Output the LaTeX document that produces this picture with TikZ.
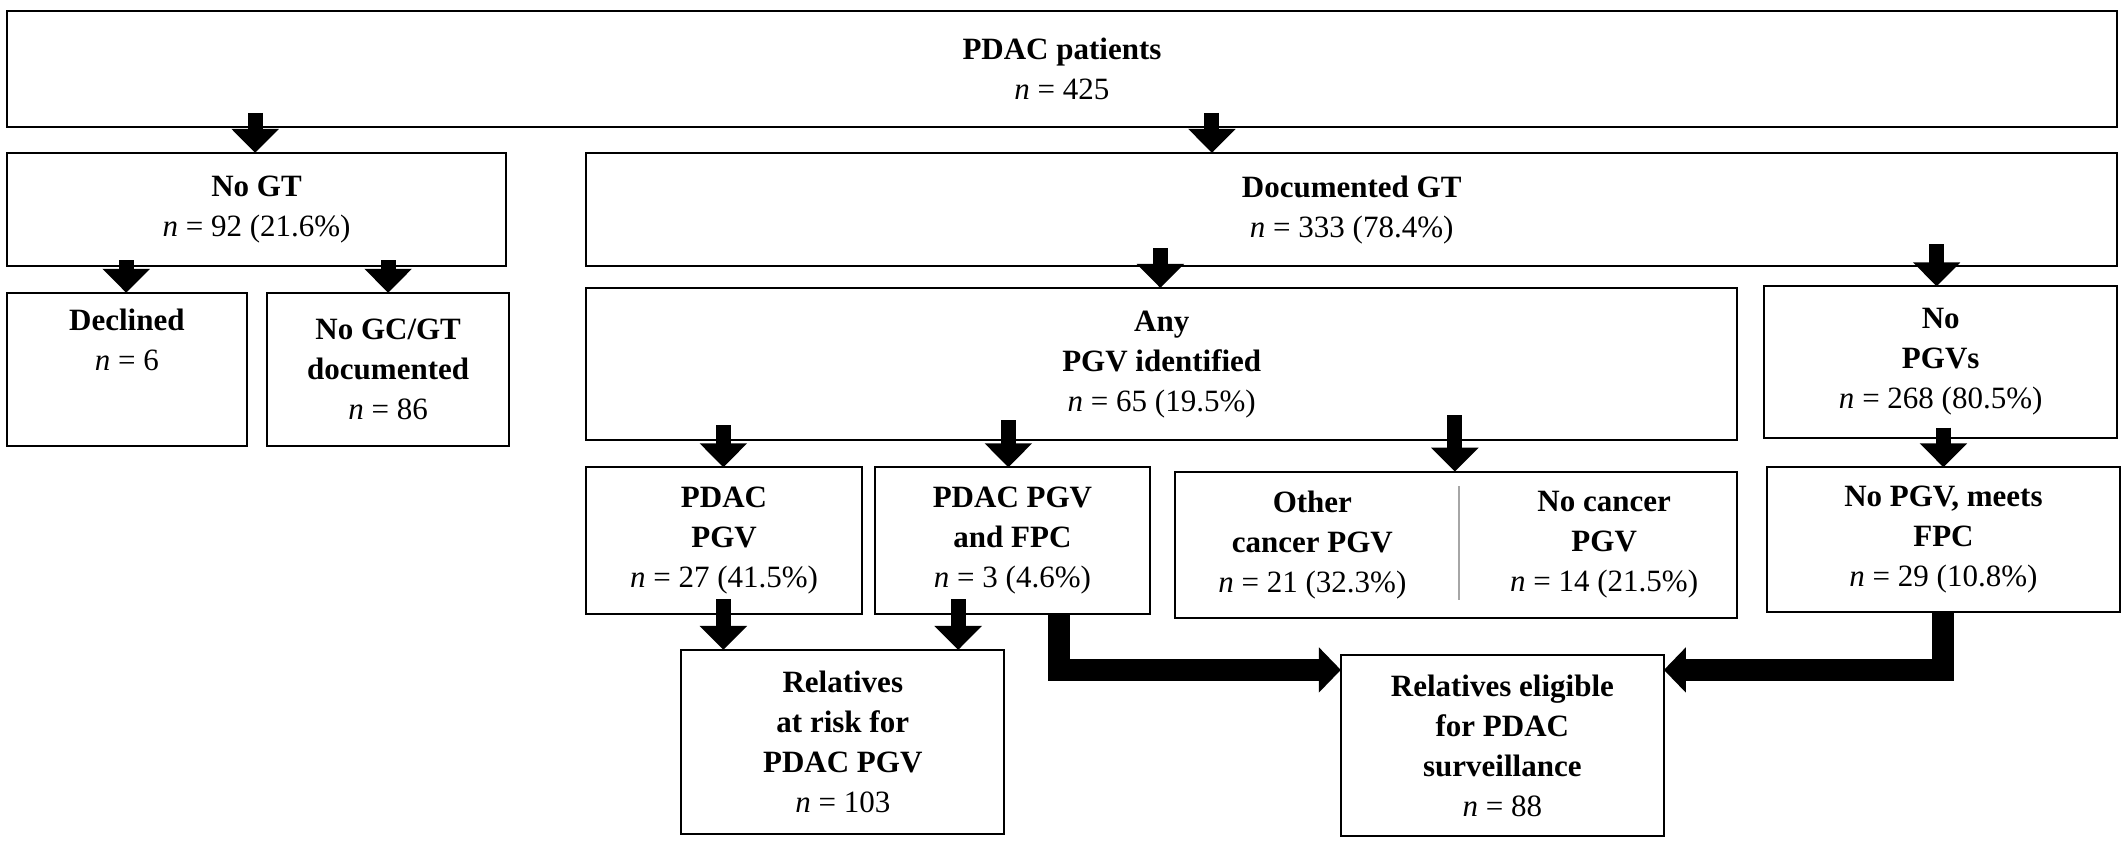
\documentclass[tikz,border=0pt]{standalone}
\usepackage{fontspec}
\setmainfont{Liberation Serif}
\usetikzlibrary{arrows.meta}
\newcommand\bx[6]{\node[box,minimum width={(#4-#2)*1.357pt},minimum height={(#5-#3)*0.5402pt}] (#1) at ({(#2+#4)/2},{(#3+#5)/2}) {#6};}
\newcommand\nn{\textit{n}}
\begin{document}
\begin{tikzpicture}[x=1.357pt,y=-0.5402pt,
  box/.style={draw,line width=2pt,inner sep=0pt,outer sep=0pt,align=center,
    font=\fontsize{31}{40}\selectfont},
  arr/.style={line width=15pt,-{Triangle[width=46pt,length=24pt]}},
  big/.style={line width=22pt,-{Triangle[width=44pt,length=22pt]}}]
\useasboundingbox (0,0) rectangle (1568,1568);
\bx{top}{5}{20}{1560}{235}{\textbf{PDAC patients}\\\nn\ = 425}
\bx{nogt}{5}{283}{373}{493}{\textbf{No GT}\\\nn\ = 92 (21.6\%)}
\bx{dgt}{432}{283}{1560}{493}{\textbf{Documented GT}\\\nn\ = 333 (78.4\%)}
\bx{decl}{5}{542}{182}{825}{\textbf{Declined}\\\nn\ = 6\\[20pt]}
\bx{nogc}{197}{542}{375}{825}{\textbf{No GC/GT}\\\textbf{documented}\\\nn\ = 86}
\bx{any}{432}{533}{1280}{815}{\textbf{Any}\\\textbf{PGV identified}\\\nn\ = 65 (19.5\%)}
\bx{nopgv}{1300}{530}{1560}{810}{\textbf{No}\\\textbf{PGVs}\\\nn\ = 268 (80.5\%)}
\bx{pp}{432}{865}{635}{1137}{\textbf{PDAC}\\\textbf{PGV}\\\nn\ = 27 (41.5\%)}
\bx{ppf}{645}{865}{847}{1137}{\textbf{PDAC PGV}\\\textbf{and FPC}\\\nn\ = 3 (4.6\%)}
\bx{oth}{866}{873}{1280}{1143}{}
\node[font=\fontsize{31}{40}\selectfont,align=center] (othl) at (967,1008) {\textbf{Other}\\\textbf{cancer PGV}\\\nn\ = 21 (32.3\%)};
\node[font=\fontsize{31}{40}\selectfont,align=center] (othr) at (1182,1008) {\textbf{No cancer}\\\textbf{PGV}\\\nn\ = 14 (21.5\%)};
\coordinate (dv1) at (1075,900);
\coordinate (dv2) at (1075,1110);
\draw[gray!70,line width=1.2pt] (dv1) -- (dv2);
\bx{meets}{1302}{865}{1562}{1132}{\textbf{No PGV, meets}\\\textbf{FPC}\\\nn\ = 29 (10.8\%)}
\bx{rar}{502}{1203}{740}{1543}{\textbf{Relatives}\\\textbf{at risk for}\\\textbf{PDAC PGV}\\\nn\ = 103}
\bx{rel}{988}{1213}{1226}{1548}{\textbf{Relatives eligible}\\\textbf{for PDAC}\\\textbf{surveillance}\\\nn\ = 88}
% arrows
\draw[arr] ([yshift=14]top.south -| 188,0) -- (nogt.north -| 188,0);
\draw[arr] ([yshift=14]top.south -| 893,0) -- (dgt.north -| 893,0);
\draw[arr] ([yshift=6]nogt.south -| 93,0) -- (decl.north -| 93,0);
\draw[arr] ([yshift=6]nogt.south -| 286,0) -- (nogc.north -| 286,0);
\draw[arr] ([yshift=18]dgt.south -| 855,0) -- (any.north -| 855,0);
\draw[arr] ([yshift=22]dgt.south -| 1427,0) -- (nopgv.north -| 1427,0);
\draw[arr] ([yshift=15]any.south -| 533,0) -- (pp.north -| 533,0);
\draw[arr] ([yshift=20]any.south -| 743,0) -- (ppf.north -| 743,0);
\draw[arr] ([yshift=25]any.south -| 1072,0) -- (oth.north -| 1072,0);
\draw[arr] ([yshift=10]nopgv.south -| 1432,0) -- (meets.north -| 1432,0);
\draw[arr] ([yshift=15]pp.south -| 533,0) -- (rar.north -| 533,0);
\draw[arr] ([yshift=15]ppf.south -| 706,0) -- (rar.north -| 706,0);
\draw[big] (ppf.south -| 780,0) -- (780,1240) -- (rel.west |- 780,1240);
\draw[big] (meets.south -| 1432,0) -- (1432,1240) -- (rel.east |- 1432,1240);
\end{tikzpicture}
\end{document}
